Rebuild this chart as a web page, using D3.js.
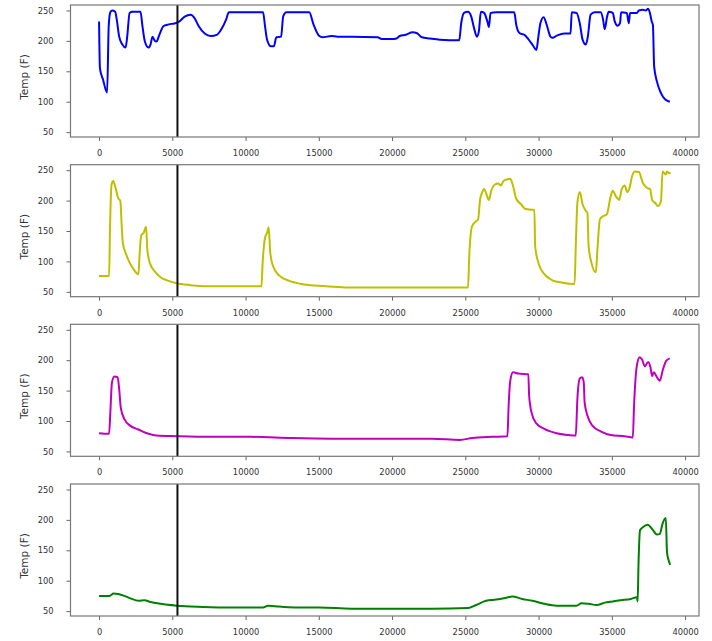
<!DOCTYPE html>
<html>
<head>
<meta charset="utf-8">
<script src="https://cdnjs.cloudflare.com/ajax/libs/d3/7.8.5/d3.min.js"></script>
<style>
  body { margin: 0; background: #fff; }
  .container { width: 712px; height: 641px; }
  text { font-family: "DejaVu Sans", sans-serif; fill: #333; }
</style>
</head>
<body>
<div class="container"></div>
<script>
const w = 712
const h = 641
const left = 70.5
const right = 699
const panelH = 132
const tops = [5, 164.7, 324.3, 484]

const xTicks = [0, 5000, 10000, 15000, 20000, 25000, 30000, 35000, 40000]
const yTicks = [50, 100, 150, 200, 250]
const markerX = 5350
const yLabel = 'Temp (F)'

// sensor 1 (blue)
const sensor1X = [0, 60, 274, 549, 658, 768, 905, 1097, 1207, 1372, 1591, 1811, 1920, 2085, 2277, 2826, 2963, 3127, 3374, 3512, 3649, 3786, 3923, 4115, 4390, 4609, 4938, 5212, 5487, 5844, 6255, 6529, 6804, 7215, 7627, 8039, 8395, 8669, 8861, 10096, 11193, 11330, 11468, 11742, 11934, 12099, 12428, 12565, 12785, 14348, 14623, 15034, 15254, 15857, 16269, 17229, 19012, 19287, 19973, 20302, 20521, 20933, 21399, 21674, 22031, 22580, 23265, 24582, 24719, 24911, 25185, 25405, 25597, 25789, 25926, 26063, 26283, 26502, 26612, 26721, 27105, 27928, 28340, 28477, 28697, 29026, 29300, 29630, 29849, 29986, 30123, 30343, 30562, 30809, 30947, 31276, 31770, 32181, 32264, 32593, 32812, 33004, 33224, 33361, 33553, 33827, 34239, 34403, 34513, 34678, 34787, 35062, 35199, 35391, 35556, 35638, 36022, 36159, 36241, 36708, 36845, 37119, 37311, 37476, 37586, 37723, 37805, 37888, 38080, 38354, 38629, 38958]
const sensor1Y = [232, 155, 136, 115, 224, 247, 250, 248, 235, 207, 194, 189, 207, 246, 248, 248, 224, 199, 189, 194, 207, 201, 199, 210, 224, 226, 228, 229, 232, 240, 243, 237, 224, 212, 208, 210, 221, 235, 247, 247, 247, 224, 202, 191, 191, 206, 207, 240, 247, 247, 228, 208, 206, 208, 207, 207, 206, 203, 203, 204, 208, 210, 214, 213, 206, 204, 202, 201, 229, 246, 248, 240, 221, 207, 216, 248, 246, 232, 223, 246, 247, 247, 247, 226, 213, 210, 203, 192, 185, 207, 229, 239, 226, 207, 205, 209, 212, 212, 247, 246, 229, 202, 194, 207, 243, 247, 247, 235, 219, 240, 248, 246, 232, 225, 229, 247, 246, 229, 246, 246, 250, 251, 250, 253, 247, 232, 226, 158, 133, 114, 104, 100]

// sensor 2 (yellow)
const sensor2X = [0, 686, 741, 850, 960, 1125, 1289, 1454, 1536, 1619, 1811, 2085, 2359, 2689, 2771, 2881, 3045, 3210, 3292, 3457, 3786, 4197, 4746, 5295, 6255, 7901, 9547, 11084, 11166, 11330, 11468, 11577, 11687, 11879, 12290, 12976, 13800, 15034, 17229, 19973, 22717, 25185, 25268, 25460, 25679, 25871, 26008, 26145, 26283, 26447, 26612, 26776, 26996, 27243, 27435, 27600, 27874, 28066, 28258, 28477, 28806, 29108, 29575, 29712, 29767, 29986, 30397, 30947, 31633, 32456, 32538, 32648, 32812, 33004, 33224, 33333, 33416, 33608, 33910, 34019, 34184, 34376, 34650, 34924, 35062, 35281, 35501, 35666, 35885, 36049, 36214, 36379, 36571, 36845, 37119, 37393, 37613, 37750, 37970, 38135, 38354, 38464, 38683, 38766, 38903, 39012]
const sensor2Y = [76, 76, 147, 226, 232, 221, 205, 199, 163, 131, 114, 98, 87, 79, 114, 143, 147, 157, 120, 98, 84, 74, 68, 64, 61, 59, 59, 59, 98, 139, 147, 156, 114, 92, 77, 68, 63, 60, 57, 57, 57, 57, 109, 158, 165, 169, 202, 213, 219, 210, 201, 217, 226, 228, 225, 232, 235, 236, 224, 203, 194, 186, 185, 185, 125, 98, 79, 69, 65, 63, 125, 196, 214, 194, 183, 180, 125, 98, 82, 120, 169, 174, 177, 207, 216, 207, 201, 218, 225, 214, 221, 240, 248, 247, 229, 221, 219, 201, 196, 191, 199, 248, 243, 248, 245, 246]

// sensor 3 (magenta)
const sensor3X = [0, 686, 768, 878, 1042, 1262, 1372, 1481, 1728, 2140, 2689, 3374, 3923, 5295, 7627, 10370, 13114, 15857, 19973, 22717, 24637, 25460, 26831, 27874, 27956, 28066, 28258, 28614, 29300, 29355, 29520, 29849, 30397, 31221, 32044, 32538, 32648, 32812, 32977, 33086, 33141, 33333, 33690, 34239, 34924, 35885, 36433, 36516, 36708, 36900, 37064, 37256, 37476, 37640, 37750, 37860, 38080, 38272, 38491, 38711, 38958]
const sensor3Y = [80, 79, 114, 163, 173, 172, 153, 122, 103, 92, 86, 79, 76, 75, 74, 74, 72, 71, 71, 71, 69, 72, 74, 75, 125, 166, 180, 178, 177, 142, 114, 96, 87, 80, 77, 76, 136, 170, 172, 163, 131, 109, 92, 83, 77, 75, 73, 125, 191, 205, 201, 190, 197, 188, 174, 180, 172, 166, 185, 199, 203]

// sensor 4 (green)
const sensor4X = [0, 713, 988, 1317, 1728, 2140, 2689, 3100, 3512, 4197, 5295, 7078, 8999, 11193, 11522, 12016, 13388, 15034, 17229, 19973, 22717, 25185, 25734, 26420, 27105, 27791, 28203, 28889, 29575, 30397, 31221, 32593, 32922, 33416, 33965, 34513, 35062, 35611, 36296, 36708, 36763, 36818, 36927, 37119, 37448, 37750, 38080, 38272, 38464, 38683, 38766, 38848, 38985]
const sensor4Y = [75, 75, 79, 78, 75, 71, 67, 68, 65, 62, 59, 57, 56, 56, 59, 58, 56, 56, 54, 54, 54, 55, 60, 67, 69, 72, 74, 70, 67, 62, 59, 59, 63, 62, 60, 64, 66, 68, 70, 73, 66, 125, 183, 188, 192, 185, 176, 177, 194, 203, 147, 136, 126]

const series = [
    { xs: sensor1X, ys: sensor1Y, color: '#0000ff' },
    { xs: sensor2X, ys: sensor2Y, color: '#bfbf00' },
    { xs: sensor3X, ys: sensor3Y, color: '#bf00bf' },
    { xs: sensor4X, ys: sensor4Y, color: '#008000' }
]

const svg = d3.select('.container')
    .append('svg')
    .attr('width', w)
    .attr('height', h)

const xScale = d3.scaleLinear()
    .domain([-1950, 40950])
    .range([left, right])

series.forEach((s, i) => {
    const top = tops[i]
    const yScale = d3.scaleLinear()
        .domain([42, 259])
        .range([top + panelH, top])

    const g = svg.append('g')

    // x axis
    const xAxis = g.append('g')
        .attr('transform', 'translate(0, ' + (top + panelH) + ')')
        .call(d3.axisBottom(xScale).tickValues(xTicks).tickFormat(d3.format('d')).tickSizeOuter(0).tickSize(4).tickPadding(9))
    // y axis
    const yAxis = g.append('g')
        .attr('transform', 'translate(' + left + ', 0)')
        .call(d3.axisLeft(yScale).tickValues(yTicks).tickSizeOuter(0).tickSize(4).tickPadding(13))

    ;[xAxis, yAxis].forEach(a => {
        a.select('.domain').remove()
        a.selectAll('line').attr('stroke', '#666')
        a.selectAll('text').attr('font-size', 8.3).attr('fill', '#333')
            .style('font-family', '"DejaVu Sans", sans-serif')
    })

    const pts = s.xs.map((x, j) => [x, s.ys[j]])
    g.append('path')
        .datum(pts)
        .attr('fill', 'none')
        .attr('stroke', s.color)
        .attr('stroke-width', 2)
        .attr('stroke-linejoin', 'round')
        .attr('d', d3.line().curve(d3.curveMonotoneX).x(d => xScale(d[0])).y(d => yScale(d[1])))

    g.append('line')
        .attr('x1', xScale(markerX))
        .attr('x2', xScale(markerX))
        .attr('y1', top)
        .attr('y2', top + panelH)
        .attr('stroke', '#111')
        .attr('stroke-width', 2)

    g.append('rect')
        .attr('x', left)
        .attr('y', top)
        .attr('width', right - left)
        .attr('height', panelH)
        .attr('fill', 'none')
        .attr('stroke', '#777')
        .attr('stroke-width', 1.2)

    g.append('text')
        .text(yLabel)
        .attr('transform', 'translate(28, ' + (top + panelH / 2 + 6) + ') rotate(-90)')
        .attr('text-anchor', 'middle')
        .attr('font-size', 10.5)
})
</script>
</body>
</html>
